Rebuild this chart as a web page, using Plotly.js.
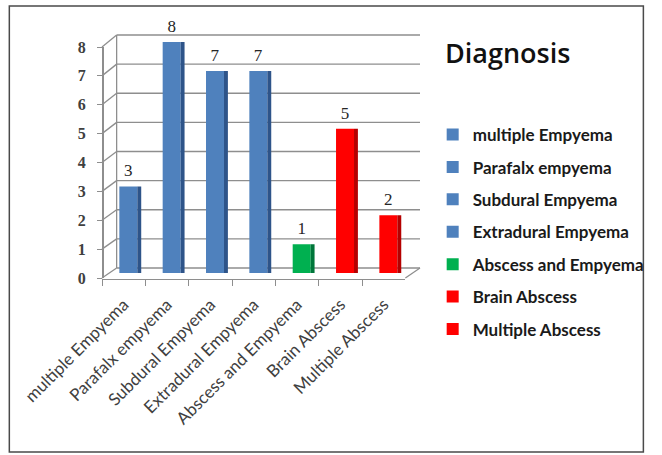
<!DOCTYPE html>
<html>
<head>
<meta charset="utf-8">
<script src="https://cdn.plot.ly/plotly-3.0.1.min.js"></script>
<style>html,body{margin:0;padding:0;background:#fff;}#chart{width:662px;height:455px;}</style>
</head>
<body>
<div id="chart"></div>
<script>
// ---- data ----
const categories = ["multiple Empyema", "Parafalx empyema", "Subdural Empyema", "Extradural Empyema", "Abscess and Empyema", "Brain Abscess", "Multiple Abscess"];
const counts = [3, 8, 7, 7, 1, 5, 2];
const yTicks = [0, 1, 2, 3, 4, 5, 6, 7, 8];
const chartTitle = "Diagnosis";

// ---- styles ----
const frontColors = ["#4F81BD", "#4F81BD", "#4F81BD", "#4F81BD", "#00B050", "#FF0000", "#FF0000"];
const sideColors  = ["#2E5489", "#2E5489", "#2E5489", "#2E5489", "#00763A", "#B50000", "#B50000"];
const gridColor = "#8e8e8e";

// ---- geometry helpers (pixel -> paper) ----
const W = 662, H = 455;
const L = 102, R = 234, T = 35, B = 176;
const pw = W - L - R, ph = H - T - B;
const px = v => (v - L) / pw;
const py = v => (H - B - v) / ph;

const wallDomX = [px(117), 1], wallDomY = [py(268), 1];
const barDomX = [0, px(413)], barDomY = [py(273), py(42)];
const textDomY = [py(270), py(39)];
const labDomY = [py(278), py(47)];
const yMax = 8;

const traces = [];
categories.forEach((c, i) => {
  traces.push({
    type: "bar", x: [c], y: [counts[i]], name: c,
    xaxis: "x", yaxis: "y",
    legendgroup: "g" + i,
    width: 0.415, offset: -0.1,
    marker: { color: frontColors[i] },
    hoverinfo: "x+y"
  });
  traces.push({
    type: "bar", x: [c], y: [counts[i]], name: c,
    xaxis: "x", yaxis: "y",
    legendgroup: "g" + i, showlegend: false,
    width: 0.09, offset: 0.315,
    marker: { color: sideColors[i] },
    hoverinfo: "skip"
  });
  // value labels (transparent bars on a slightly raised axis so the label clears the 3D top)
  traces.push({
    type: "bar", x: [c], y: [counts[i]], name: c,
    xaxis: "x", yaxis: "y4",
    legendgroup: "g" + i, showlegend: false,
    width: 0.415, offset: -0.1,
    marker: { color: "rgba(0,0,0,0)" },
    text: [String(counts[i])], textposition: "outside", cliponaxis: false,
    textfont: { family: "Liberation Serif", size: 17, color: "#262626" },
    hoverinfo: "skip"
  });
});
// invisible trace that creates the front value-axis subplot
traces.push({ type: "scatter", x: [], y: [], xaxis: "x", yaxis: "y3", showlegend: false, hoverinfo: "skip" });

// back wall grid + 3D-style connectors (drawn below all traces)
const shapes = [];
const lineStyle = { color: gridColor, width: 1.3 };
const wallY = v => wallDomY[0] + v / yMax * (wallDomY[1] - wallDomY[0]);
const frontY = v => labDomY[0] + v / yMax * (labDomY[1] - labDomY[0]);
yTicks.forEach(v => {
  shapes.push({ type: "line", xref: "paper", yref: "paper", x0: wallDomX[0], y0: wallY(v), x1: wallDomX[1], y1: wallY(v),
    line: lineStyle, layer: "below" });
  shapes.push({ type: "line", xref: "paper", yref: "paper", x0: barDomX[0], y0: frontY(v), x1: wallDomX[0], y1: wallY(v),
    line: lineStyle, layer: "below" });
});
shapes.push({ type: "line", xref: "paper", yref: "paper", x0: wallDomX[0], y0: wallY(0), x1: wallDomX[0], y1: wallY(yMax),
  line: lineStyle, layer: "below" });
shapes.push({ type: "line", xref: "paper", yref: "paper", x0: barDomX[1], y0: frontY(0), x1: wallDomX[1], y1: wallY(0),
  line: lineStyle, layer: "below" });
shapes.push({
  type: "rect", xref: "paper", yref: "paper",
  x0: px(7), x1: px(657), y0: py(452), y1: py(6),
  line: { color: "#4a4a4a", width: 1.5 }, fillcolor: "rgba(0,0,0,0)", layer: "below"
});

const layout = {
  width: W, height: H,
  margin: { l: L, r: R, t: T, b: B, pad: 0 },
  paper_bgcolor: "#ffffff", plot_bgcolor: "rgba(0,0,0,0)",
  barmode: "overlay",
  showlegend: true,
  font: { family: "Lato, Open Sans, sans-serif", color: "#262626" },
  title: {
    text: chartTitle,
    font: { family: "Open Sans", size: 27, color: "#111111", weight: 600 },
    xref: "container", yref: "container",
    x: 445 / W, xanchor: "left",
    y: 1 - 54 / H, yanchor: "middle"
  },
  // bars + category labels
  xaxis: {
    domain: barDomX, anchor: "free", position: py(278.5),
    type: "category", categoryarray: categories, range: [-0.5, categories.length - 0.5],
    tickangle: -45,
    tickfont: { family: "Lato", size: 17, color: "#404040" },
    ticks: "outside", tickson: "boundaries", ticklen: 6, tickcolor: gridColor,
    ticklabelstandoff: 8,
    showline: true, linecolor: gridColor, linewidth: 1.5,
    showgrid: false, zeroline: false, fixedrange: true
  },
  yaxis: { domain: barDomY, anchor: "x", range: [0, yMax], visible: false, fixedrange: true },
  // front value axis
  yaxis3: {
    domain: labDomY, anchor: "free", position: 0, range: [0, yMax], tickvals: yTicks,
    tickfont: { family: "Liberation Serif", size: 16, color: "#404040", weight: "bold" },
    ticks: "outside", ticklen: 5, tickcolor: gridColor, ticklabelstandoff: 8,
    showline: true, linecolor: gridColor, linewidth: 1.5,
    showgrid: false, zeroline: false, fixedrange: true
  },
  // raised axis carrying the value labels
  yaxis4: { domain: textDomY, anchor: "x", range: [0, yMax], visible: false, fixedrange: true },
  legend: {
    x: px(441), xanchor: "left",
    y: py(117), yanchor: "top",
    font: { family: "Lato", size: 17, color: "#1a1a1a", weight: "bold" },
    tracegroupgap: 7.3,
    itemwidth: 30,
    bgcolor: "rgba(0,0,0,0)"
  },
  shapes: shapes
};

Plotly.newPlot("chart", traces, layout, { displayModeBar: false, staticPlot: true });
</script>
</body>
</html>
